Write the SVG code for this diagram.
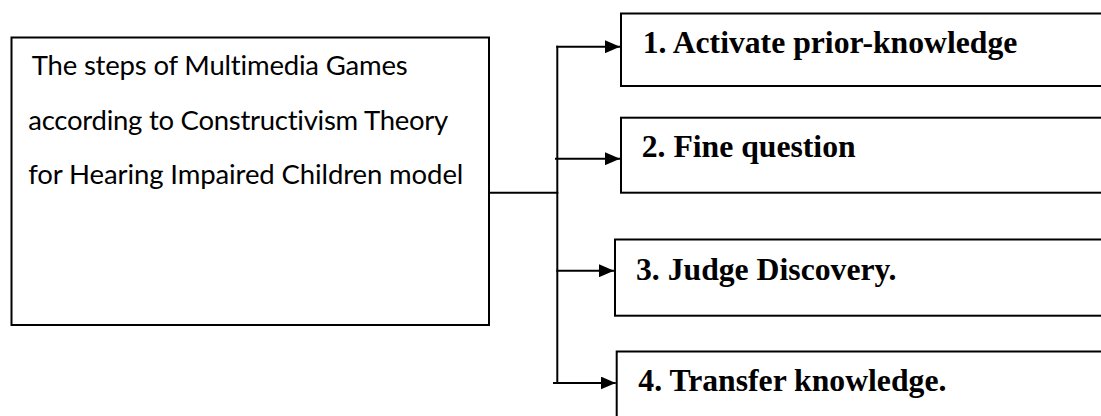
<svg xmlns="http://www.w3.org/2000/svg" width="1101" height="416" viewBox="0 0 1101 416">
  <style>
    .box { fill: #ffffff; stroke: #000000; stroke-width: 2; }
    .main { font-family: Lato, "Open Sans", "Noto Sans", sans-serif; font-size: 27.5px; fill: #000000; font-variant-ligatures: none; }
    .step { font-family: "Liberation Serif", "Times New Roman", serif; font-weight: bold; font-size: 31.7px; fill: #000000; }
    .conn { fill: none; stroke: #000000; stroke-width: 2; }
  </style>
  <defs>
    <marker id="arrow" markerUnits="userSpaceOnUse" markerWidth="15" markerHeight="13" refX="15" refY="6.5" orient="auto">
      <path d="M0,0 L15,6.5 L0,13 z" fill="#000000"/>
    </marker>
  </defs>
  <rect width="1101" height="416" fill="#ffffff"/>

  <g id="node-main">
    <rect class="box" x="11.5" y="37.5" width="477.5" height="287.5" stroke-width="2.5"/>
    <text class="main" x="31.7" y="75" textLength="376">The steps of Multimedia Games</text>
    <text class="main" x="28.3" y="129.5" textLength="420">according to Constructivism Theory</text>
    <text class="main" x="28.3" y="184" textLength="435">for Hearing Impaired Children model</text>
  </g>

  <g id="node-step1">
    <rect class="box" x="621" y="13.5" width="500" height="72.5"/>
    <text class="step" x="642.7" y="53.3">1. Activate prior-knowledge</text>
  </g>

  <g id="node-step2">
    <rect class="box" x="621" y="117.7" width="500" height="75"/>
    <text class="step" x="641.7" y="156.7">2. Fine question</text>
  </g>

  <g id="node-step3">
    <rect class="box" x="615" y="239.5" width="506" height="76.2"/>
    <text class="step" x="636" y="279.7">3. Judge Discovery.</text>
  </g>

  <g id="node-step4">
    <rect class="box" x="616.7" y="351.5" width="504" height="100"/>
    <text class="step" x="638.3" y="391.3">4. Transfer knowledge.</text>
  </g>

  <g id="connectors">
    <line class="conn" x1="489" y1="192.7" x2="558.3" y2="192.7"/>
    <line class="conn" x1="557.3" y1="45.7" x2="557.3" y2="384"/>
    <line class="conn" x1="556.3" y1="46.7" x2="620" y2="46.7" marker-end="url(#arrow)"/>
    <line class="conn" x1="555" y1="158.7" x2="620" y2="158.7" marker-end="url(#arrow)"/>
    <line class="conn" x1="556.3" y1="270.7" x2="614" y2="270.7" marker-end="url(#arrow)"/>
    <line class="conn" x1="553" y1="383" x2="615.7" y2="383" marker-end="url(#arrow)"/>
  </g>
</svg>
